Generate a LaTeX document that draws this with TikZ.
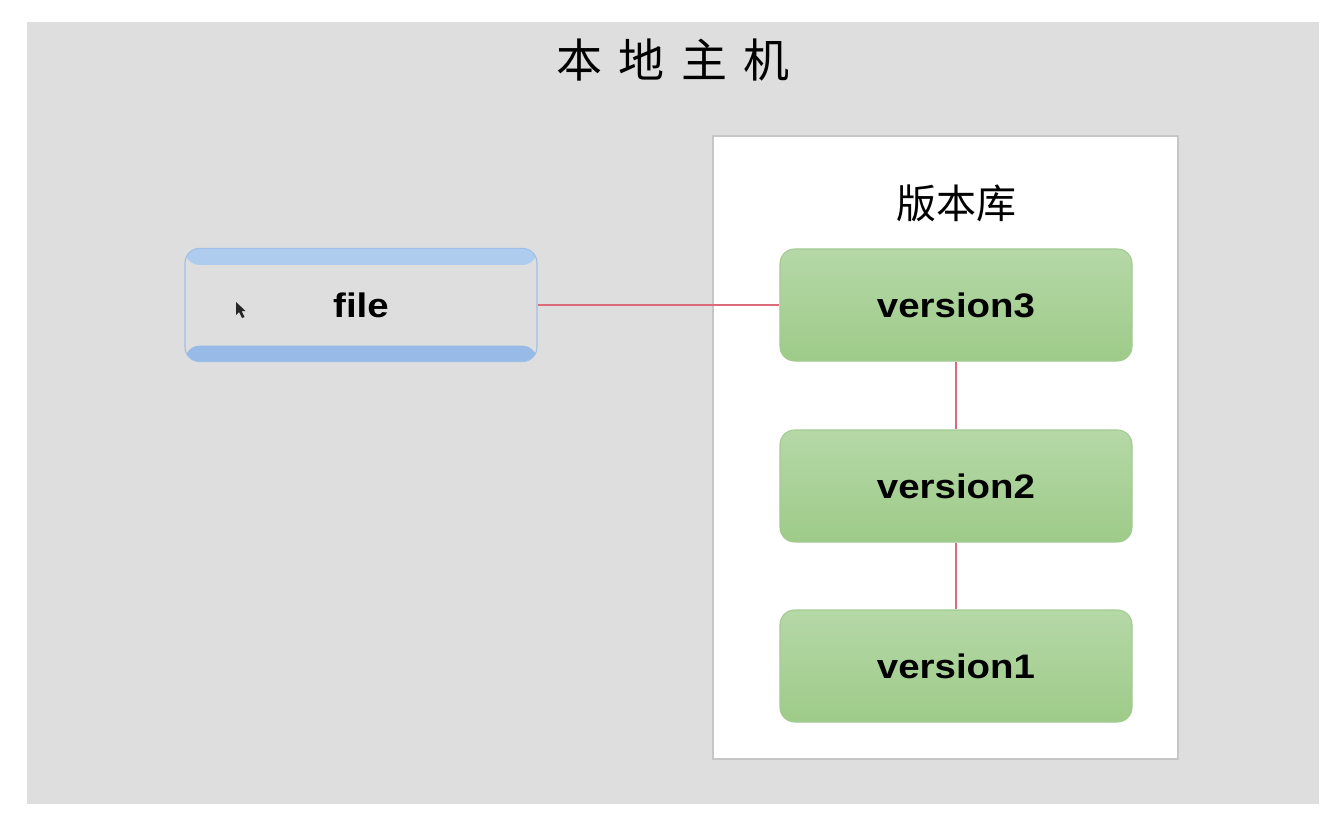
\documentclass[tikz,border=0pt]{standalone}
\usepackage{fontspec}
\newfontfamily\cjk{Noto Sans CJK SC}
\newfontfamily\lab[FakeStretch=1.13]{Liberation Sans Bold}
\definecolor{bggray}{HTML}{DEDEDE}
\definecolor{repoedge}{HTML}{C6C6C6}
\definecolor{gtop}{HTML}{B5D8A7}
\definecolor{gbot}{HTML}{9ECB89}
\definecolor{gedge}{HTML}{A3CB91}
\definecolor{btop}{HTML}{AECCEE}
\definecolor{bbot}{HTML}{97BBE6}
\definecolor{bedge}{HTML}{9DBFE8}
\definecolor{linkred}{HTML}{DB6B78}
\tikzset{
  px/.style={x=0.75pt,y=-0.75pt},
  verbox/.style={rounded corners=11pt, minimum width=264pt, minimum height=84pt,
    top color=gtop, bottom color=gbot, draw=gedge, line width=0.8pt,
    font=\lab\fontsize{25.5}{30}\selectfont, inner sep=0pt},
  filebox/.style={rounded corners=11pt, minimum width=264pt, minimum height=85pt,
    fill=bggray, draw=bedge, line width=0.8pt, inner sep=0pt,
    font=\lab\fontsize{25.5}{30}\selectfont,
    path picture={
      \fill[btop] (path picture bounding box.north west) rectangle ([yshift=-12.5pt]path picture bounding box.north east);
      \fill[bbot] (path picture bounding box.south west) rectangle ([yshift=12pt]path picture bounding box.south east);
    }},
  repobox/.style={fill=white, draw=repoedge, line width=1.4pt, minimum width=348.75pt, minimum height=467.25pt, inner sep=0pt},
  link/.style={draw=linkred, line width=1.5pt}
}
\begin{document}
\begin{tikzpicture}[px]
\useasboundingbox (0,0) rectangle (1343,831);
\fill[white] (0,0) rectangle (1343,831);
\fill[bggray] (27,22) rectangle (1319,804);
\node[font=\cjk\fontsize{34.5}{40}\selectfont, inner sep=0pt] (title) at (673,60) {本\hspace{12.5pt}地\hspace{12.5pt}主\hspace{12.5pt}机};
\node[repobox] (repo) at (945.5,447.5) {};
\node[font=\cjk\fontsize{30}{36}\selectfont, inner sep=0pt] (repotitle) at (956,203) {版本库};
\node[verbox] (v3) at (956,305) {\raisebox{-1.5pt}{version3}};
\node[verbox] (v2) at (956,486) {\raisebox{-1.5pt}{version2}};
\node[verbox] (v1) at (956,666) {\raisebox{-1.5pt}{version1}};
\node[filebox] (file) at (361,305) {\raisebox{-1.5pt}{file}};
\draw[link] (file.east) -- (v3.west);
\draw[link] (v3.south) -- (v2.north);
\draw[link] (v2.south) -- (v1.north);
\fill[black!85] (236,302) -- (236,315) -- (239,312) -- (242,318) -- (244.5,317) -- (241.5,311) -- (245.5,311) -- cycle;
\end{tikzpicture}
\end{document}
